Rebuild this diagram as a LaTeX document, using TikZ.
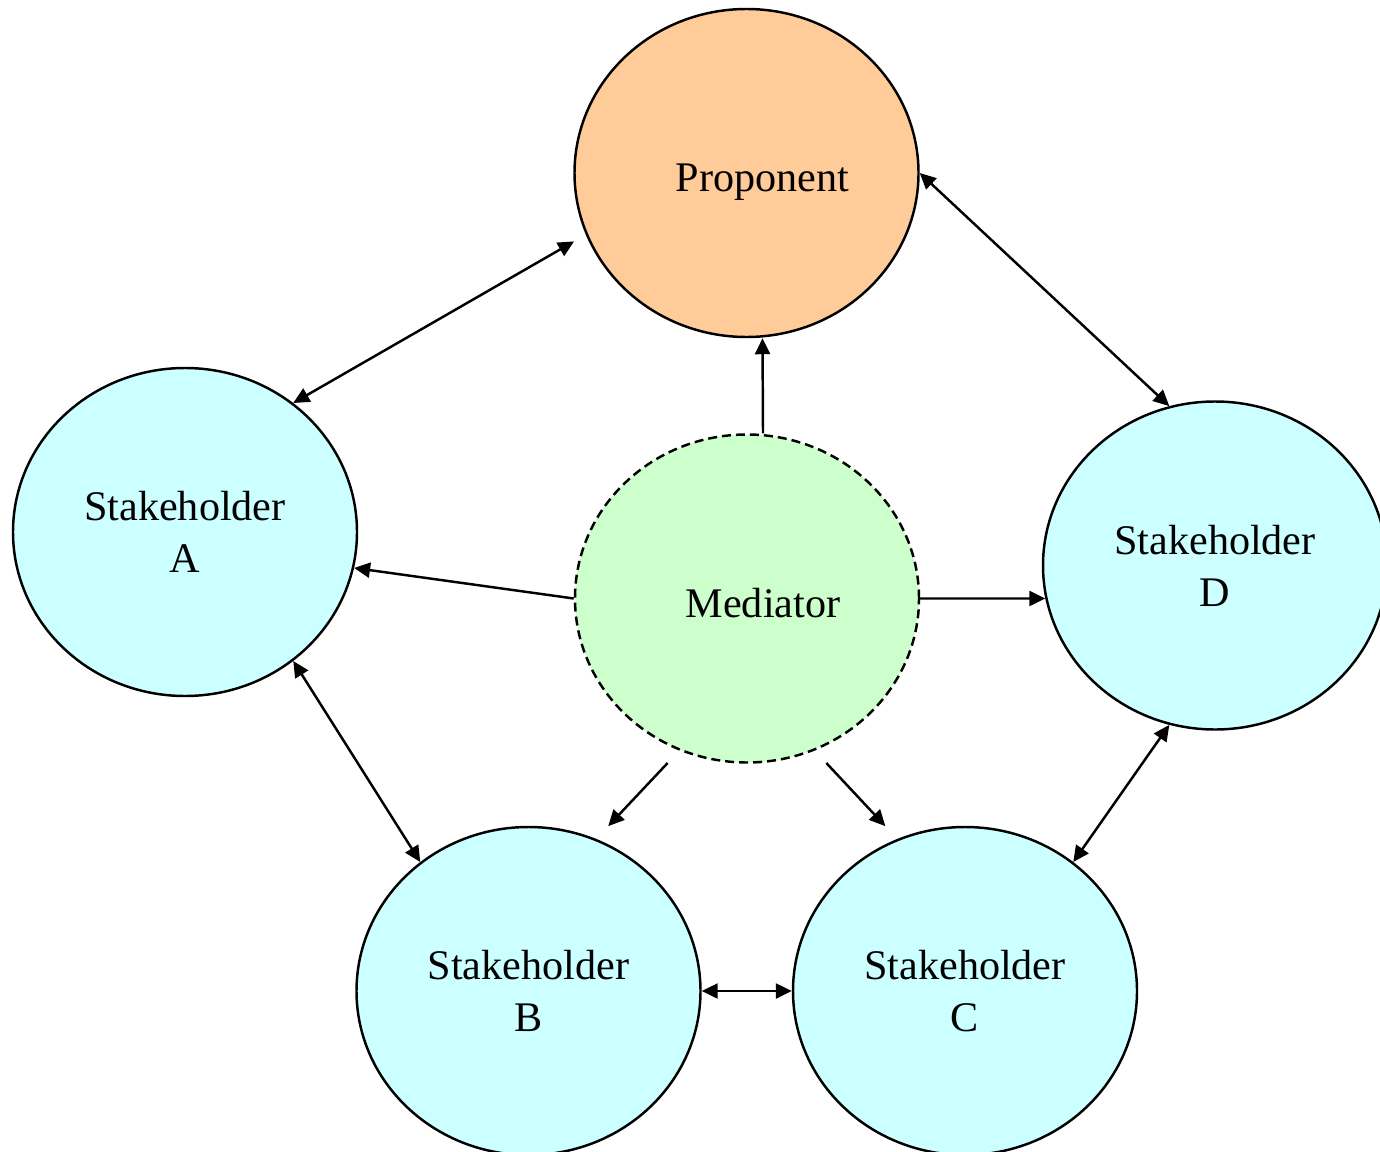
\documentclass[tikz,border=0pt]{standalone}
\usepackage{fontspec}
\setmainfont{Liberation Serif}
\usepackage{tikz}
\usetikzlibrary{arrows.meta,positioning,shapes.geometric}
\usepackage{xcolor}
\definecolor{leadfill}{HTML}{FFCC99}
\definecolor{holderfill}{HTML}{CCFFFF}
\definecolor{brokerfill}{HTML}{CCFFCC}
\tikzset{
  party/.style={draw=black,ellipse,line width=1.4pt,inner sep=0pt,align=center,
    minimum width=6.88cm,minimum height=6.56cm,font=\fontsize{24}{29.5}\selectfont},
  holder/.style={party,fill=holderfill},
  lead/.style={party,fill=leadfill},
  broker/.style={party,fill=brokerfill,dash pattern=on 0.18cm off 0.1cm},
  arrow/.style={-{Triangle[length=0.32cm,width=0.3cm]},draw=black,line width=1.4pt},
  both/.style={{Triangle[length=0.32cm,width=0.3cm]}-{Triangle[length=0.32cm,width=0.3cm]},
    draw=black,line width=1.4pt}
}
\begin{document}
\begin{tikzpicture}
  \useasboundingbox (0,0) rectangle (27.6,-23.04);
  \node[lead] (p) at (14.93,-3.46) {\hspace*{0.64cm}\raisebox{-0.19cm}[\height][\depth]{Proponent}};
  \node[broker] (m) at (14.94,-11.97) {\hspace*{0.64cm}\raisebox{-0.1cm}[\height][\depth]{Mediator}};
  \node[holder] (a) at (3.70,-10.64) {Stakeholder\\A};
  \node[holder] (d) at (24.30,-11.31) {Stakeholder\\D};
  \node[holder] (b) at (10.57,-19.82) {Stakeholder\\B};
  \node[holder] (c) at (19.30,-19.82) {Stakeholder\\C};
  % ring of stakeholders
  \draw[both,shorten <=0.27cm] (p.201) -- (a.50);
  \draw[both] (p.east) -- (d.106);
  \draw[both] (a.310) -- (b.130);
  \draw[both] (b.east) -- (c.west);
  \draw[both] (c.50) -- (d.254);
  % mediator links
  \draw[arrow] ([xshift=0.32cm]m.north) -- ([xshift=0.32cm]p.south);
  \draw[arrow] (m.west) -- (a.348);
  \draw[arrow] (m.east) -- (d.191);
  \draw[arrow,shorten <=0.34cm,shorten >=0.35cm] (m.246) -- (b.66);
  \draw[arrow,shorten <=0.34cm,shorten >=0.35cm] (m.294) -- (c.114);
\end{tikzpicture}
\end{document}
